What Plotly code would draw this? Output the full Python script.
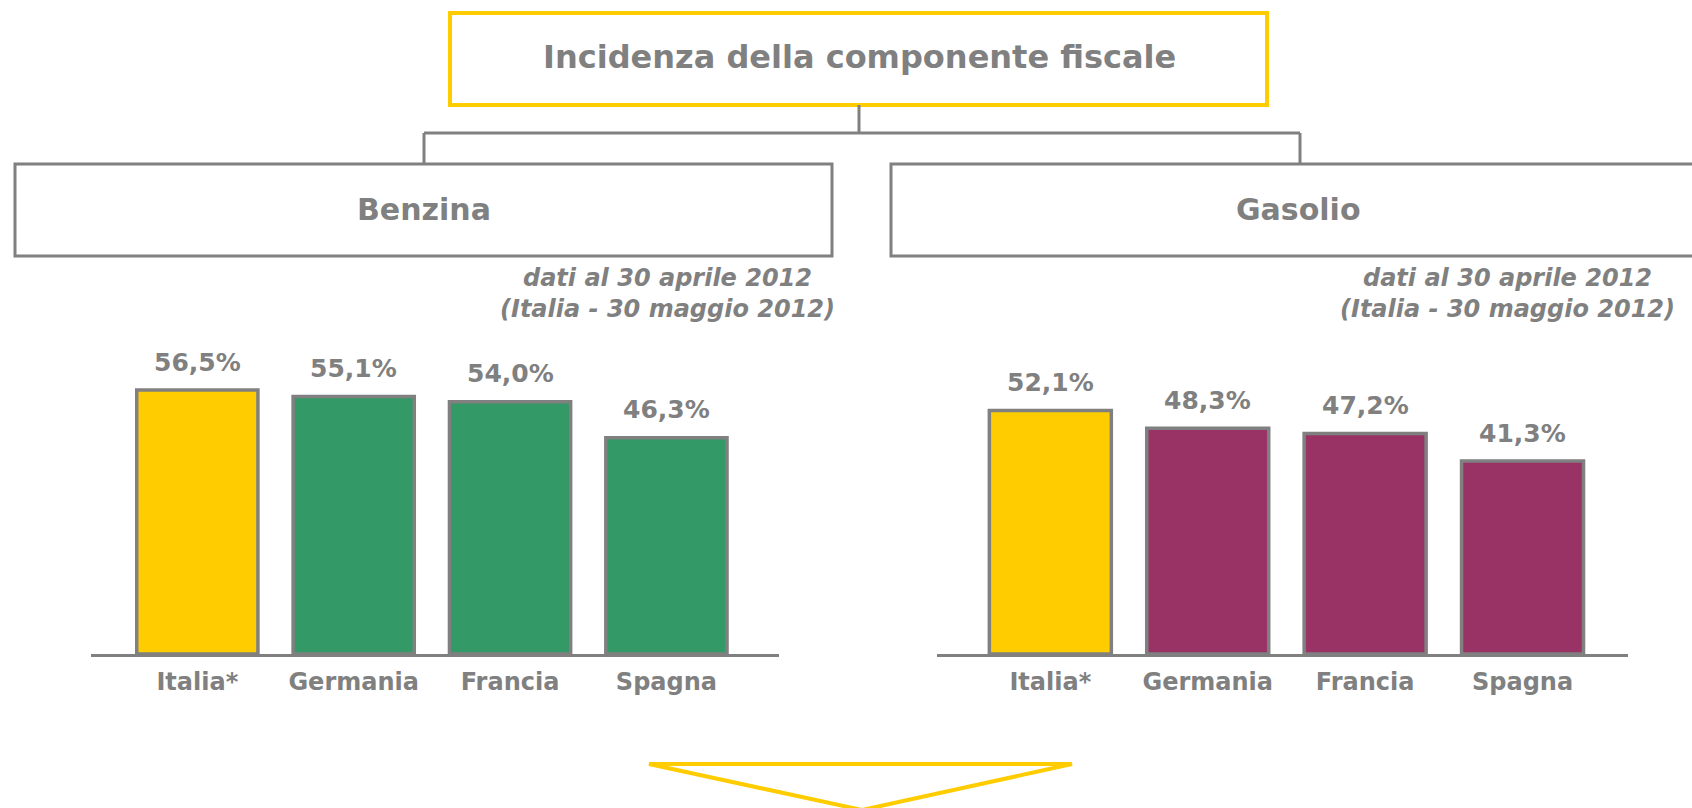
import plotly.graph_objects as go

# ---- data ----
countries = ["Italia*", "Germania", "Francia", "Spagna"]
benzina = [56.5, 55.1, 54.0, 46.3]
gasolio = [52.1, 48.3, 47.2, 41.3]
benzina_colors = ["#FFCC00", "#339966", "#339966", "#339966"]
gasolio_colors = ["#FFCC00", "#993366", "#993366", "#993366"]
title_text = "Incidenza della componente fiscale"
panel_titles = ["Benzina", "Gasolio"]
note_text = "dati al 30 aprile 2012<br>(Italia - 30 maggio 2012)"

W, H = 1692, 808
GREY = "#808080"
YELLOW = "#FFCC00"
FONT = "DejaVu Sans"


def px(x):
    return x / W


def py(y):
    return 1 - y / H


def fmt(v):
    return f"{v:.1f}".replace(".", ",") + "%"


fig = go.Figure()
fig.add_trace(go.Bar(x=countries, y=benzina, marker=dict(color=benzina_colors, line=dict(color=GREY, width=3.5)),
                     xaxis="x", yaxis="y", hoverinfo="skip"))
fig.add_trace(go.Bar(x=countries, y=gasolio, marker=dict(color=gasolio_colors, line=dict(color=GREY, width=3.5)),
                     xaxis="x2", yaxis="y2", hoverinfo="skip"))

annotations = []
for xa, ya, vals in (("x", "y", benzina), ("x2", "y2", gasolio)):
    for c, v in zip(countries, vals):
        annotations.append(dict(x=c, y=v, xref=xa, yref=ya, text="<b>" + fmt(v) + "</b>", showarrow=False,
                                xanchor="center", yanchor="middle", yshift=28,
                                font=dict(family=FONT, size=25, color=GREY)))


def label(x, y, text, size, italic=False):
    t = "<b><i>" + text + "</i></b>" if italic else "<b>" + text + "</b>"
    return dict(x=px(x), y=py(y), xref="paper", yref="paper", text=t, showarrow=False,
                xanchor="center", yanchor="middle", align="center",
                font=dict(family=FONT, size=size, color=GREY))


annotations.append(label(859, 57, title_text, 32))
annotations.append(label(424, 209, panel_titles[0], 30))
annotations.append(label(1298, 209, panel_titles[1], 30))
annotations.append(label(667, 293, note_text, 24, italic=True))
annotations.append(label(1507, 293, note_text, 24, italic=True))

shapes = [
    dict(type="rect", xref="paper", yref="paper", x0=px(450), x1=px(1267), y0=py(13), y1=py(105),
         line=dict(color=YELLOW, width=4)),
    dict(type="line", xref="paper", yref="paper", x0=px(859), x1=px(859), y0=py(105), y1=py(133),
         line=dict(color=GREY, width=3)),
    dict(type="line", xref="paper", yref="paper", x0=px(424), x1=px(1300), y0=py(133), y1=py(133),
         line=dict(color=GREY, width=3)),
    dict(type="line", xref="paper", yref="paper", x0=px(424), x1=px(424), y0=py(133), y1=py(164),
         line=dict(color=GREY, width=3)),
    dict(type="line", xref="paper", yref="paper", x0=px(1300), x1=px(1300), y0=py(133), y1=py(164),
         line=dict(color=GREY, width=3)),
    dict(type="rect", xref="paper", yref="paper", x0=px(15), x1=px(832), y0=py(164), y1=py(256),
         line=dict(color=GREY, width=3)),
    dict(type="rect", xref="paper", yref="paper", x0=px(891), x1=px(1705), y0=py(164), y1=py(256),
         line=dict(color=GREY, width=3)),
    dict(type="path", xref="paper", yref="paper",
         path=f"M {px(649)} {py(764)} L {px(1072)} {py(764)} L {px(862)} {py(810)} Z",
         line=dict(color=YELLOW, width=4)),
]

ydom = [py(654), py(327)]
axis_common = dict(showline=True, linecolor=GREY, linewidth=3, showgrid=False, zeroline=False,
                   ticks="outside", ticklen=0, tickcolor="rgba(0,0,0,0)", ticklabelstandoff=4,
                   tickfont=dict(family=FONT, size=24, color=GREY), fixedrange=True)

fig.update_layout(
    width=W, height=H, margin=dict(l=0, r=0, t=0, b=0),
    paper_bgcolor="white", plot_bgcolor="white", showlegend=False, bargap=0.225,
    xaxis=dict(domain=[px(91), px(779)], range=[-0.68, 3.72], anchor="y", **axis_common),
    yaxis=dict(domain=ydom, range=[0, 70], visible=False, fixedrange=True),
    xaxis2=dict(domain=[px(937), px(1628)], range=[-0.72, 3.67], anchor="y2", **axis_common),
    yaxis2=dict(domain=ydom, range=[0, 70], visible=False, fixedrange=True, anchor="x2"),
    annotations=annotations, shapes=shapes,
)
fig.update_xaxes(tickvals=countries, ticktext=["<b>" + c + "</b>" for c in countries])

fig.write_html("out.html", config={"displayModeBar": False},
               post_script="document.body.style.margin='0';document.body.style.overflow='hidden';")
